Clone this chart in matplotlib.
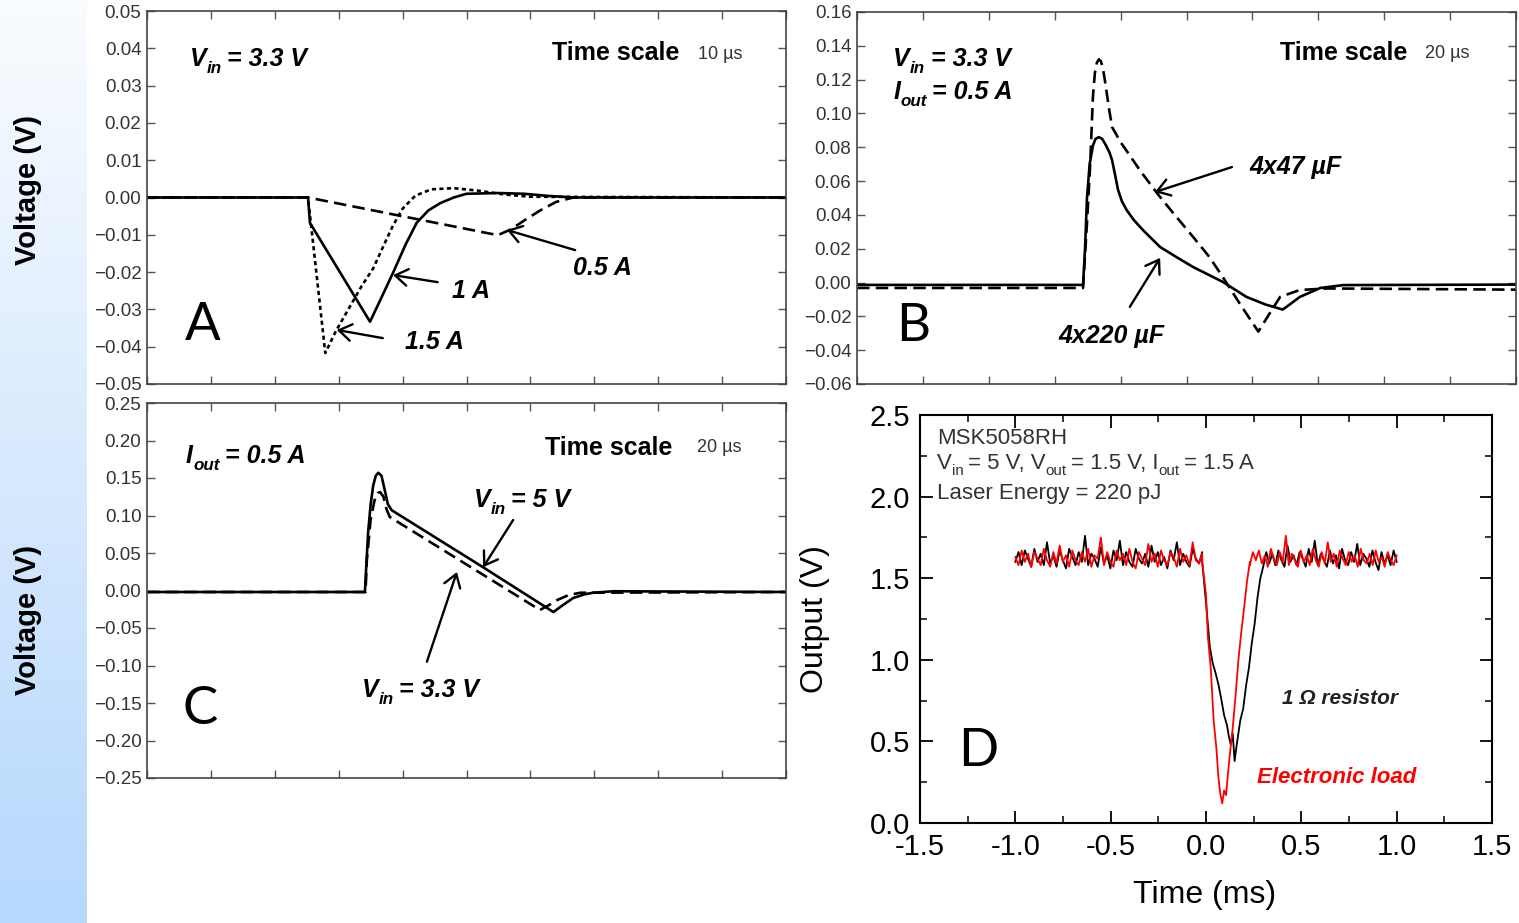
import numpy as np
import matplotlib
matplotlib.use('Agg')
import matplotlib.pyplot as plt
import matplotlib.transforms as mtransforms
from matplotlib.ticker import MultipleLocator, FuncFormatter

# ---------------- data ----------------
# Panel A (x in divisions, 10 us/div)
a15_x = [0, 2.52, 2.79, 2.95, 3.15, 3.35, 3.54, 3.70, 3.85, 4.00, 4.20, 4.45, 4.80, 5.20, 5.60, 6.00, 10]
a15_y = [0, 0, -0.0417, -0.0360, -0.0300, -0.0240, -0.0190, -0.0130, -0.0075, -0.0030, 0.0005, 0.0022, 0.0025, 0.0018, 0.0008, 0.0002, 0]
a1_x = [0, 2.52, 2.55, 3.49, 3.67, 3.85, 4.05, 4.22, 4.40, 4.59, 4.80, 5.00, 5.50, 5.90, 6.30, 6.70, 10]
a1_y = [0, 0, -0.0068, -0.0333, -0.0268, -0.0202, -0.0125, -0.0068, -0.0035, -0.0015, 0.0000, 0.0010, 0.0012, 0.0010, 0.0004, 0.0, 0]
a05_x = [0, 2.52, 5.49, 5.70, 5.90, 6.15, 6.40, 6.67, 10]
a05_y = [0, 0, -0.0101, -0.0085, -0.0062, -0.0035, -0.0012, 0.0, 0]

# Panel B (20 us/div)
b47_x = [0, 3.43, 3.49, 3.54, 3.58, 3.61, 3.64, 3.67, 3.70, 3.73, 3.76, 3.82, 3.87, 4.00, 4.09, 4.30, 4.55, 4.80,
         5.10, 5.35, 5.55, 5.80, 6.09, 6.25, 6.42, 6.72, 7.13, 10]
b47_y = [-0.0032, -0.0032, 0.035, 0.071, 0.110, 0.124, 0.130, 0.132, 0.131, 0.127, 0.120, 0.104, 0.092, 0.083, 0.078,
         0.066, 0.053, 0.041, 0.027, 0.015, 0.0033, -0.012, -0.029, -0.019, -0.0085, -0.0044, -0.0035, -0.0042]
b220_x = [0, 3.43, 3.46, 3.49, 3.53, 3.58, 3.62, 3.67, 3.72, 3.78, 3.83, 3.87, 3.92, 3.96, 4.02, 4.09, 4.20, 4.34, 4.60, 4.85, 5.10,
          5.55, 5.91, 6.20, 6.46, 6.60, 6.72, 7.03, 7.38, 10]
b220_y = [-0.0014, -0.0014, 0.020, 0.050, 0.070, 0.081, 0.085, 0.086, 0.085, 0.081, 0.077, 0.0725, 0.063, 0.055, 0.048, 0.043, 0.037, 0.031,
          0.021, 0.015, 0.0092, 0.0004, -0.0085, -0.013, -0.016, -0.012, -0.0085, -0.0032, -0.0015, -0.0012]

# Panel C (20 us/div)
c5_x = [0, 3.41, 3.46, 3.50, 3.54, 3.58, 3.62, 3.67, 3.72, 3.77, 3.83, 5.26, 6.36, 6.50, 6.67, 6.85, 6.98, 7.30, 10]
c5_y = [-0.002, -0.002, 0.077, 0.115, 0.140, 0.153, 0.157, 0.153, 0.134, 0.115, 0.107, 0.031, -0.0287,
        -0.020, -0.010, -0.005, -0.003, -0.001, -0.002]
c33_x = [0, 3.42, 3.44, 3.50, 3.56, 3.61, 3.65, 3.70, 3.75, 3.80, 6.15, 6.30, 6.42, 6.60, 6.78, 10]
c33_y = [-0.002, -0.002, 0.040, 0.095, 0.120, 0.130, 0.131, 0.125, 0.108, 0.098, -0.026, -0.019, -0.0127,
         -0.006, -0.003, -0.002]

# Panel D (ms, V)
blk_left = [1.60, 1.66, 1.58, 1.67, 1.62, 1.57, 1.68, 1.60, 1.65, 1.58,
            1.72, 1.59, 1.64, 1.57, 1.67, 1.61, 1.56, 1.68, 1.63, 1.58,
            1.66, 1.60, 1.76, 1.58, 1.65, 1.62, 1.57, 1.69, 1.59, 1.64,
            1.56, 1.67, 1.61, 1.73, 1.58, 1.66, 1.60, 1.57, 1.68, 1.62,
            1.59, 1.65, 1.57, 1.70, 1.60, 1.66, 1.58, 1.63, 1.56, 1.67,
            1.61, 1.72, 1.58, 1.65, 1.60, 1.57, 1.68, 1.62, 1.59, 1.66]
red_left = [1.63, 1.58, 1.67, 1.60, 1.65, 1.57, 1.66, 1.62, 1.58, 1.68,
            1.61, 1.57, 1.66, 1.59, 1.70, 1.60, 1.64, 1.57, 1.67, 1.61,
            1.58, 1.66, 1.60, 1.68, 1.57, 1.64, 1.62, 1.75, 1.58, 1.66,
            1.60, 1.57, 1.67, 1.61, 1.65, 1.58, 1.68, 1.60, 1.56, 1.66,
            1.62, 1.58, 1.71, 1.60, 1.65, 1.57, 1.67, 1.61, 1.58, 1.66,
            1.63, 1.57, 1.68, 1.60, 1.64, 1.58, 1.72, 1.61, 1.59, 1.65]
blk_dip_t = [-0.02, 0.00, 0.02, 0.035, 0.05, 0.065, 0.08, 0.095, 0.11, 0.12, 0.13, 0.14, 0.15, 0.16,
             0.17, 0.18, 0.195, 0.21, 0.225, 0.24, 0.255, 0.27, 0.285, 0.30]
blk_dip_v = [1.60, 1.35, 1.08, 0.98, 0.92, 0.85, 0.76, 0.66, 0.60, 0.53, 0.48, 0.55, 0.38, 0.47,
             0.55, 0.63, 0.70, 0.84, 0.95, 1.10, 1.22, 1.38, 1.50, 1.57]
red_dip_t = [-0.02, 0.00, 0.01, 0.025, 0.04, 0.055, 0.065, 0.075, 0.085, 0.095, 0.105, 0.115, 0.125,
             0.14, 0.155, 0.17, 0.185, 0.20, 0.215, 0.23]
red_dip_v = [1.60, 1.40, 1.14, 0.95, 0.63, 0.45, 0.28, 0.18, 0.12, 0.20, 0.17, 0.30, 0.42, 0.58,
             0.78, 1.00, 1.17, 1.32, 1.48, 1.60]
blk_right = [1.57, 1.66, 1.59, 1.65, 1.58, 1.67, 1.61, 1.57, 1.70, 1.60,
             1.64, 1.58, 1.66, 1.62, 1.57, 1.68, 1.60, 1.73, 1.58, 1.65,
             1.61, 1.57, 1.67, 1.59, 1.64, 1.56, 1.68, 1.61, 1.58, 1.66,
             1.60, 1.71, 1.58, 1.65, 1.62, 1.57, 1.67, 1.60, 1.55, 1.66,
             1.59, 1.64, 1.58, 1.67, 1.60]
red_right = [1.58, 1.66, 1.61, 1.67, 1.59, 1.64, 1.57, 1.68, 1.62, 1.58,
             1.66, 1.60, 1.76, 1.58, 1.65, 1.61, 1.57, 1.67, 1.60, 1.64,
             1.58, 1.68, 1.61, 1.57, 1.66, 1.59, 1.72, 1.60, 1.65, 1.57,
             1.67, 1.62, 1.58, 1.66, 1.60, 1.64, 1.57, 1.68, 1.61, 1.59,
             1.65, 1.58, 1.67, 1.60, 1.63, 1.57, 1.66, 1.61, 1.58, 1.64]

# ---------------- figure ----------------
plt.rcParams['font.family'] = ['Liberation Sans', 'DejaVu Sans']
plt.rcParams['lines.scale_dashes'] = False

W, H = 1519, 923
fig = plt.figure(figsize=(W / 100, H / 100), dpi=100)
renderer = fig.canvas.get_renderer()

# gradient strip on the left
gax = fig.add_axes([0, 0, 87 / W, 1])
g = np.linspace(0, 1, 256)[:, None, None]
top_c = np.array([250, 252, 255]) / 255
bot_c = np.array([182, 216, 253]) / 255
gax.imshow(top_c * (1 - g) + bot_c * g, aspect='auto', extent=[0, 1, 0, 1])
gax.axis('off')

fig.text(28 / W, 1 - 190 / H, 'Voltage (V)', rotation=90, ha='center', va='center',
         fontsize=21, fontweight='bold')
fig.text(28 / W, 1 - 620 / H, 'Voltage (V)', rotation=90, ha='center', va='center',
         fontsize=21, fontweight='bold')


def rect(l, t, r, b):
    return [l / W, 1 - b / H, (r - l) / W, (b - t) / H]


def minus_fmt(v, pos):
    s = f'{v:.2f}'
    if s == '-0.00':
        s = '0.00'
    return s.replace('-', '\u2212')


def style_osc(ax, ylim, ystep):
    ax.set_xlim(0, 10)
    ax.set_ylim(*ylim)
    ax.xaxis.set_major_locator(MultipleLocator(1))
    ax.yaxis.set_major_locator(MultipleLocator(ystep))
    ax.yaxis.set_major_formatter(FuncFormatter(minus_fmt))
    ax.tick_params(axis='both', direction='in', top=True, right=True, length=6, width=1,
                   color='#555555', labelsize=13.5, labelcolor='#333333', pad=4)
    ax.tick_params(axis='x', labelbottom=False)
    for s in ax.spines.values():
        s.set_color('#444444')
        s.set_linewidth(1.2)


def rich(ax, x, y, pieces, size, **kw):
    dx = 0.0
    for s, sub, gap in pieces:
        dx += gap * fig.dpi / 72
        fs = size * 0.68 if sub else size
        dy = -size * 0.28 * fig.dpi / 72 if sub else 0
        tr = mtransforms.offset_copy(ax.transData, fig=fig, x=dx, y=dy, units='dots')
        t = ax.text(x, y, s, transform=tr, fontsize=fs, ha='left', va='baseline', **kw)
        dx += t.get_window_extent(renderer).width


BI = dict(fontweight='bold', fontstyle='italic', color='black')
LW = 1.9
DASH = (9, 4.5)
DOT = (3.0, 2.4)
ARW = dict(arrowstyle='->, head_length=0.45, head_width=0.3', lw=1.7, color='black',
           mutation_scale=20, shrinkA=0, shrinkB=0)
BIG = dict(fontsize=38, family=['Lato', 'DejaVu Sans'], ha='left', va='baseline')

# ---- Panel A ----
axA = fig.add_axes(rect(147, 11, 786, 384))
style_osc(axA, (-0.05, 0.05), 0.01)
axA.plot(a05_x, a05_y, color='black', lw=LW, dashes=DASH)
axA.plot(a15_x, a15_y, color='black', lw=LW, dashes=DOT)
axA.plot(a1_x, a1_y, color='black', lw=LW)
rich(axA, 0.67, 0.0353, [('V', 0, 0), ('in', 1, 0), ('= 3.3 V', 0, 4)], 18, **BI)
axA.text(6.34, 0.0369, 'Time scale', fontsize=18, fontweight='bold', va='baseline')
axA.text(8.62, 0.0372, '10 µs', fontsize=13, color='#333333', va='baseline')
axA.text(0.59, -0.0382, 'A', **BIG)
axA.annotate('', xy=(5.63, -0.0087), xytext=(6.70, -0.0141), arrowprops=ARW)
axA.annotate('', xy=(3.85, -0.0208), xytext=(4.55, -0.0227), arrowprops=ARW)
axA.annotate('', xy=(2.97, -0.0355), xytext=(3.69, -0.0377), arrowprops=ARW)
axA.text(6.67, -0.0208, '0.5 A', fontsize=18, va='baseline', **BI)
axA.text(4.77, -0.0269, '1 A', fontsize=18, va='baseline', **BI)
axA.text(4.04, -0.0406, '1.5 A', fontsize=18, va='baseline', **BI)

# ---- Panel B ----
axB = fig.add_axes(rect(857, 12, 1516, 384))
style_osc(axB, (-0.06, 0.16), 0.02)
axB.plot(b47_x, b47_y, color='black', lw=LW, dashes=DASH)
axB.plot(b220_x, b220_y, color='black', lw=LW)
rich(axB, 0.55, 0.128, [('V', 0, 0), ('in', 1, 0), ('= 3.3 V', 0, 4)], 18, **BI)
rich(axB, 0.55, 0.1085, [('I', 0, 0), ('out', 1, 0), ('= 0.5 A', 0, 4)], 18, **BI)
axB.text(6.42, 0.1316, 'Time scale', fontsize=18, fontweight='bold', va='baseline')
axB.text(8.62, 0.1330, '20 µs', fontsize=13, color='#333333', va='baseline')
axB.text(0.59, -0.0345, 'B', **BIG)
axB.annotate('', xy=(4.52, 0.0535), xytext=(5.69, 0.0683), arrowprops=ARW)
axB.annotate('', xy=(4.60, 0.0146), xytext=(4.14, -0.0144), arrowprops=ARW)
axB.text(5.95, 0.064, '4x47 µF', fontsize=18, va='baseline', **BI)
axB.text(3.05, -0.0357, '4x220 µF', fontsize=18, va='baseline', **BI)

# ---- Panel C ----
axC = fig.add_axes(rect(147, 403, 786, 778))
style_osc(axC, (-0.25, 0.25), 0.05)
axC.plot(c33_x, c33_y, color='black', lw=LW, dashes=DASH)
axC.plot(c5_x, c5_y, color='black', lw=LW)
rich(axC, 0.61, 0.170, [('I', 0, 0), ('out', 1, 0), ('= 0.5 A', 0, 4)], 18, **BI)
axC.text(6.23, 0.181, 'Time scale', fontsize=18, fontweight='bold', va='baseline')
axC.text(8.61, 0.184, '20 µs', fontsize=13, color='#333333', va='baseline')
axC.text(0.56, -0.178, 'C', **BIG)
axC.annotate('', xy=(5.26, 0.031), xytext=(5.73, 0.094), arrowprops=ARW)
axC.annotate('', xy=(4.85, 0.0247), xytext=(4.38, -0.095), arrowprops=ARW)
rich(axC, 5.12, 0.111, [('V', 0, 0), ('in', 1, 0), ('= 5 V', 0, 4)], 18, **BI)
rich(axC, 3.36, -0.142, [('V', 0, 0), ('in', 1, 0), ('= 3.3 V', 0, 4)], 18, **BI)

# ---- Panel D ----
axD = fig.add_axes(rect(920, 415, 1492, 823))
axD.set_xlim(-1.5, 1.5)
axD.set_ylim(0, 2.5)
t_left = np.linspace(-1.0, -0.02, len(blk_left))
t_blk_right = np.linspace(0.30, 1.0, len(blk_right))
t_red_right = np.linspace(0.23, 1.0, len(red_right))
axD.plot(list(t_left) + blk_dip_t + list(t_blk_right), blk_left + blk_dip_v + blk_right,
         color='black', lw=1.3)
axD.plot(list(t_left) + red_dip_t + list(t_red_right), red_left + red_dip_v + red_right,
         color='#ff0000', lw=1.3)
axD.xaxis.set_major_locator(MultipleLocator(0.5))
axD.xaxis.set_minor_locator(MultipleLocator(0.25))
axD.yaxis.set_major_locator(MultipleLocator(0.5))
axD.yaxis.set_minor_locator(MultipleLocator(0.25))
axD.xaxis.set_major_formatter(FuncFormatter(lambda v, p: f'{v:.1f}'))
axD.yaxis.set_major_formatter(FuncFormatter(lambda v, p: f'{v:.1f}'))
axD.tick_params(which='major', direction='in', top=True, right=True, length=9, width=1.3,
                labelsize=21, pad=7)
axD.tick_params(which='minor', direction='in', top=True, right=True, length=5, width=1.1)
for s in axD.spines.values():
    s.set_linewidth(1.5)
axD.set_xlabel('Time (ms)', fontsize=23)
axD.set_ylabel('Output (V)', fontsize=23)
axD.xaxis.set_label_coords(0.498, -0.14)
axD.yaxis.set_label_coords(-0.158, 0.5)
GR = dict(color='#333333')
axD.text(-1.41, 2.32, 'MSK5058RH', fontsize=16, va='baseline', **GR)
rich(axD, -1.41, 2.17, [('V', 0, 0), ('in', 1, 0), ('= 5 V, V', 0, 3), ('out', 1, 0),
                        ('= 1.5 V, I', 0, 3), ('out', 1, 0), ('= 1.5 A', 0, 3)], 16, **GR)
axD.text(-1.41, 1.985, 'Laser Energy = 220 pJ', fontsize=16, va='baseline', **GR)
axD.text(-1.30, 0.35, 'D', **BIG)
axD.text(0.40, 0.73, '1 Ω resistor', fontsize=15, fontweight='bold', fontstyle='italic',
         color='#222222', va='baseline')
axD.text(0.27, 0.245, 'Electronic load', fontsize=16, fontweight='bold', fontstyle='italic',
         color='#ff0000', va='baseline')

fig.savefig('out.png', dpi=100)
